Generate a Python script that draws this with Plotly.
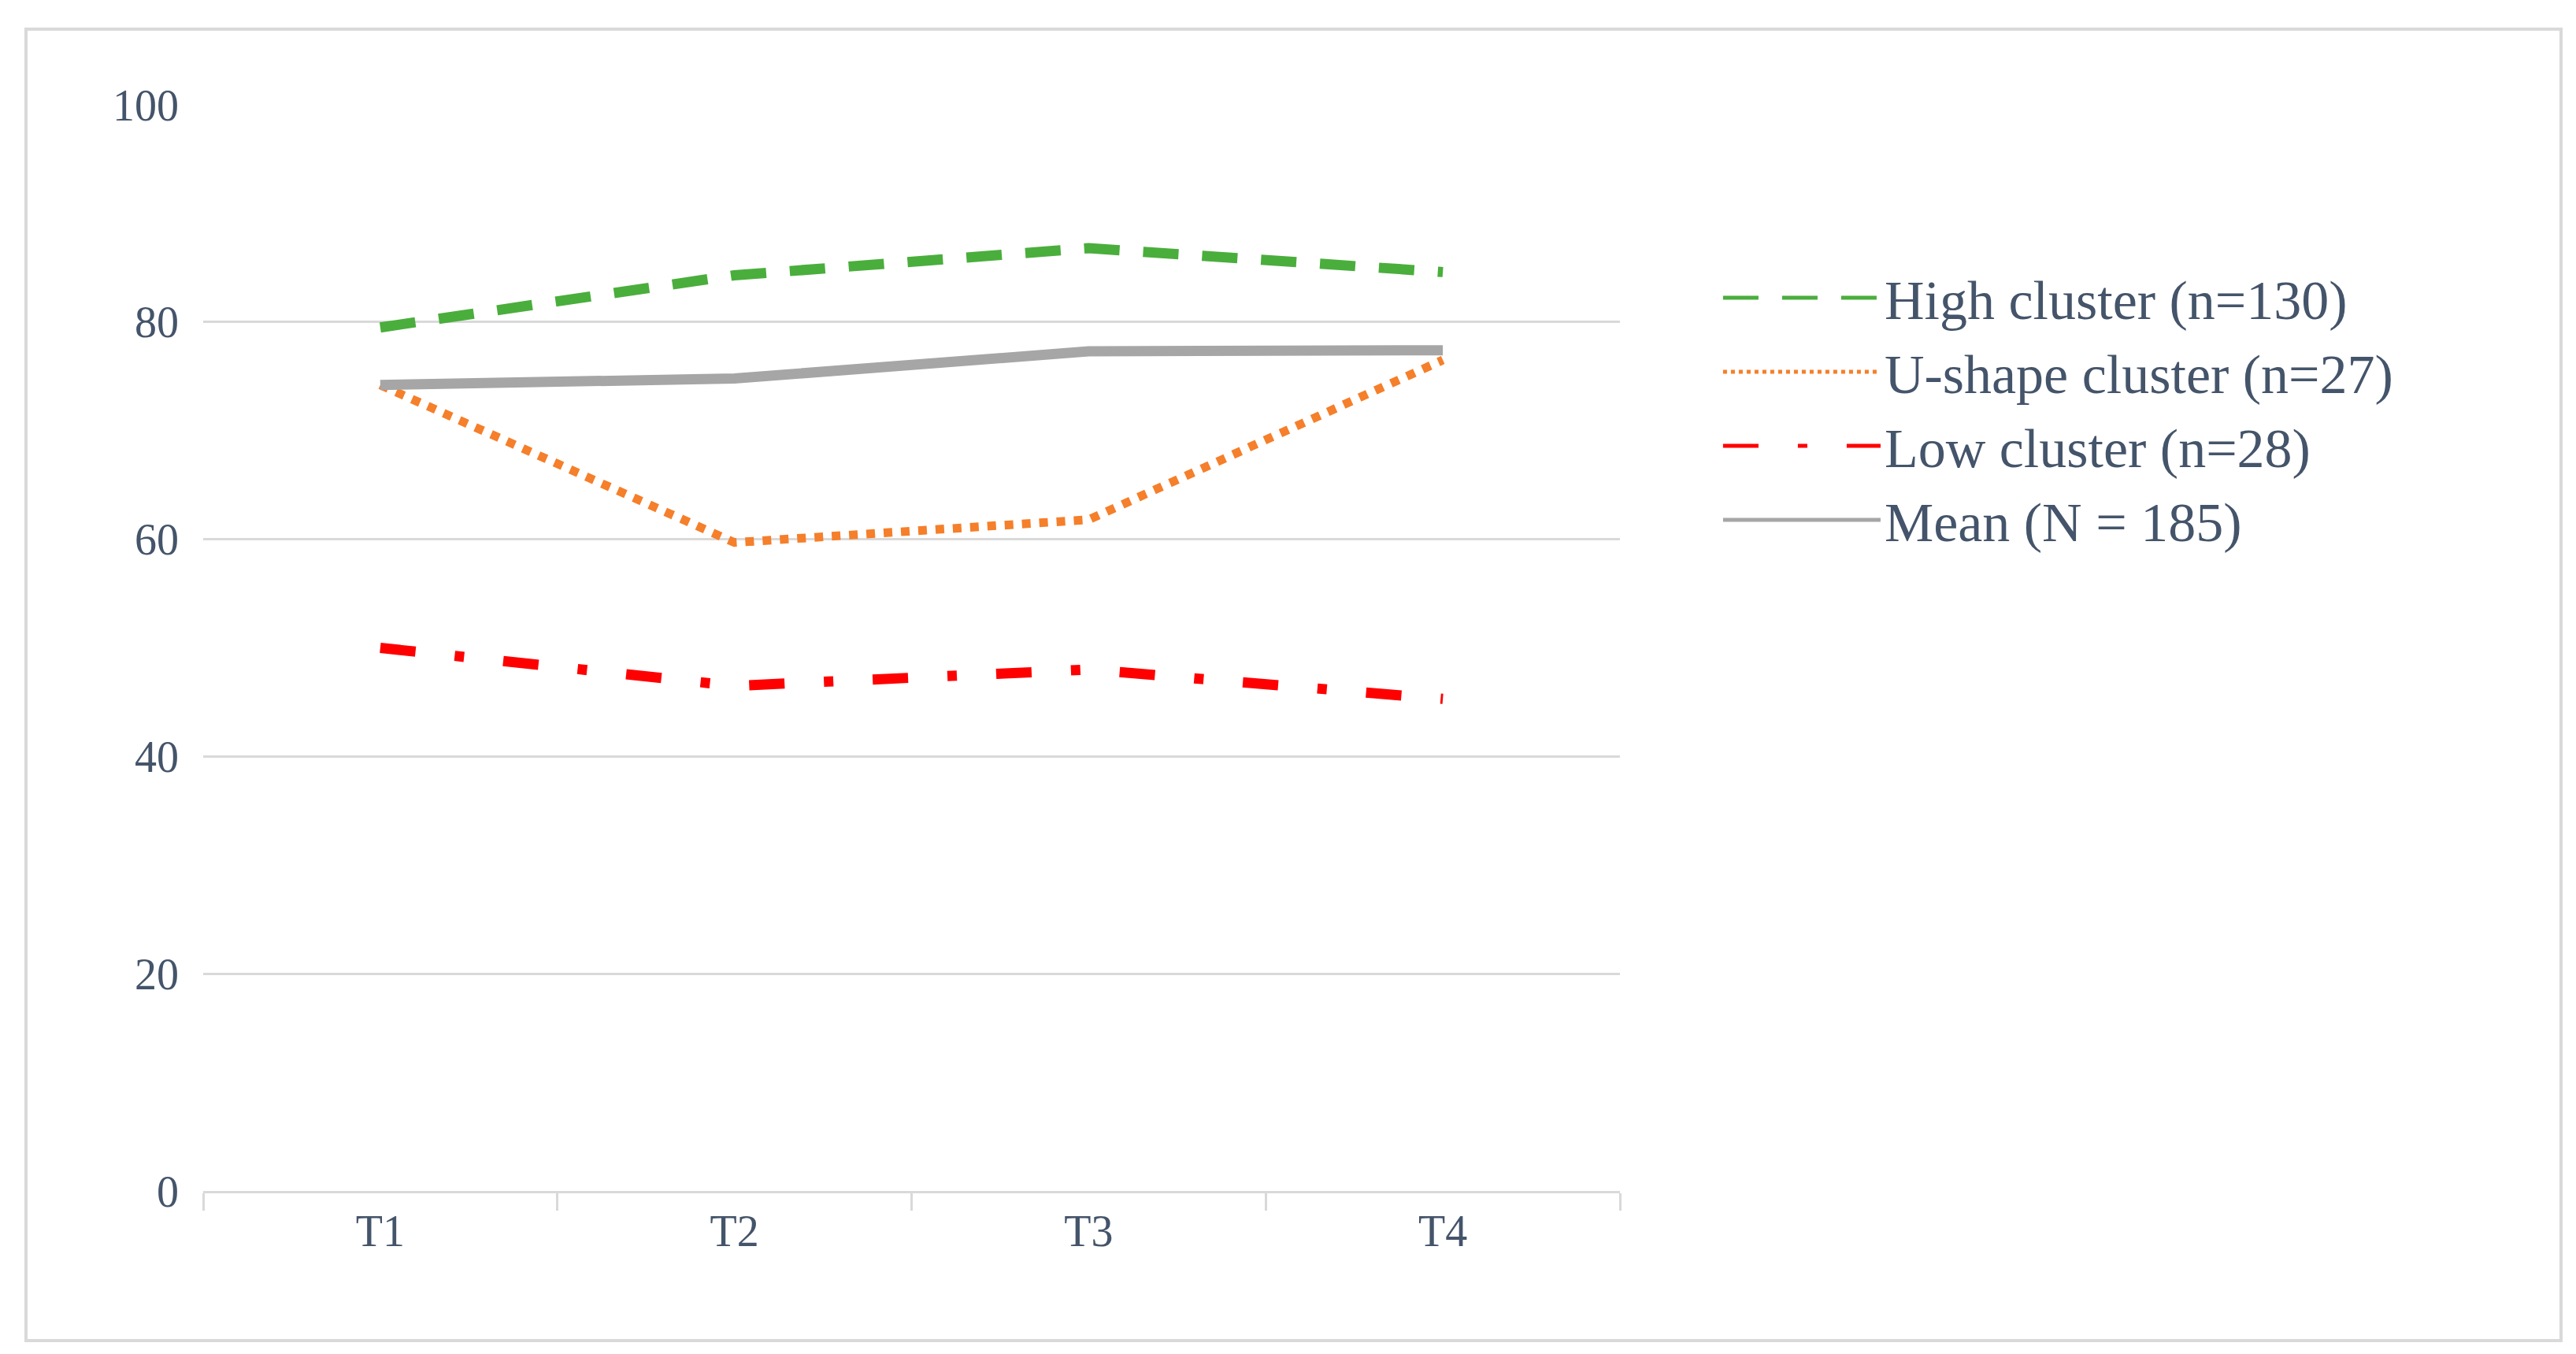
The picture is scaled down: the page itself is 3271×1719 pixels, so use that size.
import plotly.graph_objects as go

categories = ["T1", "T2", "T3", "T4"]
high = [79.5, 84.3, 86.8, 84.6]
ushape = [74.2, 59.7, 61.8, 76.5]
low = [50.0, 46.5, 48.0, 45.3]
mean = [74.2, 74.8, 77.3, 77.4]
names = ["High cluster (n=130)", "U-shape cluster (n=27)", "Low cluster (n=28)", "Mean (N = 185)"]

fig = go.Figure()
fig.add_trace(go.Scatter(x=categories, y=high, name=names[0], mode="lines",
                         line=dict(color="#4aae3c", width=13, dash="45px,30px")))
fig.add_trace(go.Scatter(x=categories, y=ushape, name=names[1], mode="lines",
                         line=dict(color="#f57f2a", width=11, dash="dot")))
fig.add_trace(go.Scatter(x=categories, y=low, name=names[2], mode="lines",
                         line=dict(color="#ff0000", width=13, dash="45px,50px,12px,50px")))
fig.add_trace(go.Scatter(x=categories, y=mean, name=names[3], mode="lines",
                         line=dict(color="#a6a6a6", width=13)))

fig.update_layout(
    width=3271, height=1719,
    paper_bgcolor="white", plot_bgcolor="white",
    margin=dict(l=250, r=1222, t=125, b=215),
    font=dict(family="Liberation Serif", color="#44546a", size=56),
    showlegend=True,
    legend=dict(x=1.07, y=0.86, xanchor="left", yanchor="top",
                font=dict(size=70, color="#44546a"), itemwidth=200,
                tracegroupgap=0, itemsizing="constant"),
    xaxis=dict(type="category", range=[-0.5, 3.5], showgrid=False, showline=True,
               linecolor="#d9d9d9", linewidth=3, ticks="outside", tickson="boundaries",
               ticklen=22, tickcolor="#d9d9d9", tickwidth=3, tickfont=dict(size=56)),
    yaxis=dict(range=[0, 100], dtick=20, showgrid=True, gridcolor="#d9d9d9",
               gridwidth=3, zeroline=False, showline=False, ticks="",
               tickfont=dict(size=56), ticklabelstandoff=30),
    shapes=[dict(type="rect", xref="paper", yref="paper",
                 x0=-225/1799, x1=(3244-250)/1799, y0=-(1694-1504)/1379, y1=(1504-29)/1379,
                 line=dict(color="#d9d9d9", width=4))],
)
fig.write_html("out.html")
